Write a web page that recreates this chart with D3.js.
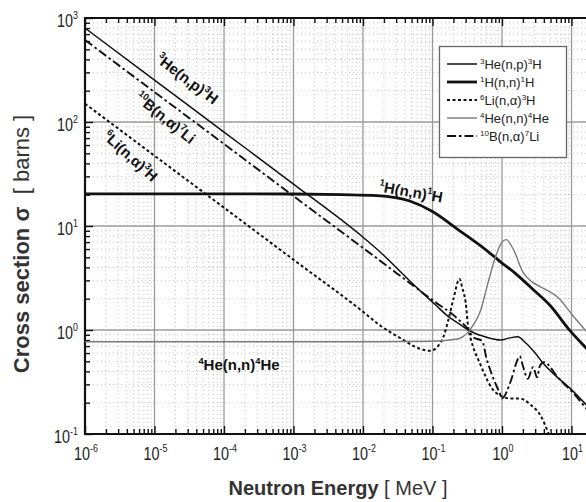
<!DOCTYPE html>
<html>
<head>
<meta charset="utf-8">
<script src="https://cdn.jsdelivr.net/npm/d3@7"></script>
<style>
  body { margin: 0; background: #fff; }
  svg { display: block; font-family: "Liberation Sans", Arial, sans-serif; }
</style>
</head>
<body>
<svg id="chart" width="586" height="502"></svg>
<script>
// cross sections, [energy MeV, sigma barns]
const he3np = [[1e-6,800],[1e-5,253],[1e-4,80],[1e-3,25.3],[1e-2,7.8],[0.0178,5.6],[0.04,3.3],[0.068,2.35],[0.11,1.75],[0.166,1.36],[0.24,1.15],[0.33,1.0],[0.42,0.92],[0.54,0.87],[0.75,0.82],[0.95,0.80],[1.3,0.84],[1.68,0.86],[2.2,0.75],[3.0,0.6],[4.0,0.47],[6.0,0.36],[9.8,0.27],[17,0.185]];
const h1nn = [[1e-6,20.4],[1e-5,20.4],[1e-4,20.4],[1e-3,20.3],[0.005,20.0],[0.016,19.6],[0.048,17.3],[0.1,13.8],[0.23,9.3],[0.5,6.4],[0.96,4.5],[1.6,3.45],[2.8,2.45],[5.0,1.7],[8.8,1.05],[17,0.65]];
const li6na = [[1e-6,150],[1e-5,47.4],[1e-4,15],[1e-3,4.74],[0.01,1.5],[0.0178,1.1],[0.034,0.84],[0.066,0.66],[0.093,0.63],[0.12,0.7],[0.145,0.875],[0.17,1.27],[0.2,1.99],[0.245,3.1],[0.27,2.5],[0.3,1.84],[0.33,1.0],[0.35,0.85],[0.5,0.45],[0.73,0.27],[1.0,0.23],[1.3,0.22],[1.8,0.22],[2.6,0.19],[3.6,0.15],[4.7,0.1]];
const he4nn = [[1e-6,0.77],[1e-4,0.77],[1e-2,0.77],[0.1,0.78],[0.23,0.82],[0.35,1.02],[0.5,1.59],[0.61,2.63],[0.81,5.1],[1.0,7.0],[1.15,7.4],[1.45,6.0],[2.0,3.6],[2.7,2.9],[3.6,2.6],[6.4,2.05],[10.5,1.37],[17,0.94]];
const b10na = [[1e-6,615],[1e-5,194],[1e-4,61.5],[1e-3,19.4],[0.01,6.15],[0.1,1.94],[0.23,1.28],[0.33,1.0],[0.38,0.86],[0.52,0.78],[0.6,0.53],[0.73,0.36],[0.92,0.25],[1.0,0.22],[1.33,0.32],[1.7,0.53],[1.8,0.56],[2.0,0.45],[2.35,0.34],[2.8,0.44],[3.2,0.35],[3.5,0.45],[4.0,0.49],[6.6,0.34],[9.9,0.26],[17,0.17]];

const xDecades = [-6, -5, -4, -3, -2, -1, 0, 1, 2];
const yDecades = [-1, 0, 1, 2, 3];
const xTickLabels = ["10{-6}","10{-5}","10{-4}","10{-3}","10{-2}","10{-1}","10{0}","10{1}"];
const yTickLabels = ["10{-1}","10{0}","10{1}","10{2}","10{3}"];

const legendNames = ["{3}He(n,p){3}H","{1}H(n,n){1}H","{6}Li(n,\u03b1){3}H","{4}He(n,n){4}He","{10}B(n,\u03b1){7}Li"];

const svg = d3.select("#chart");
const pLeft = 85, pTop = 18, pRight = 641, pBottom = 434;

let x = d3.scaleLog().domain([1e-6, 1e2]).range([pLeft, pRight]);
let y = d3.scaleLog().domain([0.1, 1000]).range([pBottom, pTop]);

// text with {..} parts written as superscripts
function richText(sel, str, size) {
  const parts = str.split(/\{([^}]*)\}/);
  let up = false;
  parts.forEach((p, i) => {
    if (!p) return;
    const t = sel.append("tspan").text(p);
    if (i % 2 === 1) {
      t.attr("font-size", size * 0.62).attr("dy", up ? 0 : -size * 0.42);
      up = true;
    } else {
      t.attr("font-size", size).attr("dy", up ? size * 0.42 : 0);
      up = false;
    }
  });
}

svg.append("defs").append("clipPath").attr("id", "plotclip")
  .append("rect").attr("x", pLeft).attr("y", pTop).attr("width", pRight - pLeft).attr("height", pBottom - pTop);

// grid
let minorX = [], minorY = [];
xDecades.slice(0, -1).forEach(d => { for (let k = 2; k < 10; k++) minorX.push(k * Math.pow(10, d)); });
yDecades.slice(0, -1).forEach(d => { for (let k = 2; k < 10; k++) minorY.push(k * Math.pow(10, d)); });
let majorX = xDecades.map(d => Math.pow(10, d));
let majorY = yDecades.map(d => Math.pow(10, d));

let grid = svg.append("g");
grid.selectAll(".mx").data(minorX).enter().append("line")
  .attr("x1", d => x(d)).attr("x2", d => x(d)).attr("y1", pTop).attr("y2", pBottom)
  .attr("stroke", "#b4b4b4").attr("stroke-width", 0.8).attr("stroke-dasharray", "1,3");
grid.selectAll(".my").data(minorY).enter().append("line")
  .attr("y1", d => y(d)).attr("y2", d => y(d)).attr("x1", pLeft).attr("x2", pRight)
  .attr("stroke", "#b4b4b4").attr("stroke-width", 0.8).attr("stroke-dasharray", "1,3");
grid.selectAll(".gx").data(majorX).enter().append("line")
  .attr("x1", d => x(d)).attr("x2", d => x(d)).attr("y1", pTop).attr("y2", pBottom)
  .attr("stroke", "#9a9a9a").attr("stroke-width", 1.3);
grid.selectAll(".gy").data(majorY).enter().append("line")
  .attr("y1", d => y(d)).attr("y2", d => y(d)).attr("x1", pLeft).attr("x2", pRight)
  .attr("stroke", "#9a9a9a").attr("stroke-width", 1.3);

// axes with inward ticks
function ticks(axis, vals, size, pos) {
  let g = svg.append("g").attr("transform", pos)
    .call(axis.tickValues(vals).tickSize(size).tickFormat(""));
  g.select(".domain").remove();
  g.selectAll("line").attr("stroke", "#111").attr("stroke-width", 1.4);
}
ticks(d3.axisBottom(x), majorX, -8, `translate(0,${pBottom})`);
ticks(d3.axisBottom(x), minorX, -5, `translate(0,${pBottom})`);
ticks(d3.axisTop(x), majorX, -8, `translate(0,${pTop})`);
ticks(d3.axisTop(x), minorX, -5, `translate(0,${pTop})`);
ticks(d3.axisLeft(y), majorY, -8, `translate(${pLeft},0)`);
ticks(d3.axisLeft(y), minorY, -5, `translate(${pLeft},0)`);

svg.append("path")
  .attr("d", `M${pRight},${pTop}H${pLeft}V${pBottom}H${pRight}`)
  .attr("fill", "none").attr("stroke", "#111").attr("stroke-width", 2.2);

// tick labels (narrow, like the scan)
xTickLabels.forEach((s, i) => {
  let t = svg.append("text")
    .attr("transform", `translate(${x(majorX[i]) + 1},460) scale(0.8,1)`)
    .attr("text-anchor", "middle").attr("fill", "#222");
  richText(t, s, 18);
});
yTickLabels.forEach((s, i) => {
  let t = svg.append("text")
    .attr("transform", `translate(78,${y(majorY[i]) + 9}) scale(0.8,1)`)
    .attr("text-anchor", "end").attr("fill", "#222");
  richText(t, s, 18);
});

// curves
const line = d3.line().x(d => x(d[0])).y(d => y(d[1])).curve(d3.curveMonotoneX);
const series = [
  { data: he3np, color: "#111", width: 1.5, dash: null },
  { data: h1nn, color: "#111", width: 2.8, dash: null },
  { data: li6na, color: "#111", width: 2.0, dash: "3,2.5" },
  { data: he4nn, color: "#7a7a7a", width: 1.4, dash: null },
  { data: b10na, color: "#111", width: 1.9, dash: "9,3,2.5,3" }
];
let plot = svg.append("g").attr("clip-path", "url(#plotclip)");
series.forEach(s => {
  plot.append("path").attr("d", line(s.data))
    .attr("fill", "none").attr("stroke", s.color).attr("stroke-width", s.width)
    .attr("stroke-dasharray", s.dash);
});

// curve labels
function curveLabel(str, cx, cy, angle) {
  let t = svg.append("text").attr("text-anchor", "middle").attr("fill", "#111")
    .attr("font-weight", "bold")
    .attr("transform", `translate(${cx},${cy}) rotate(${angle})`);
  richText(t, str, 15);
}
curveLabel("{3}He(n,p){3}H", 184, 83, 37);
curveLabel("{10}B(n,\u03b1){7}Li", 162, 122, 39);
curveLabel("{6}Li(n,\u03b1){3}H", 127, 160, 42);
curveLabel("{1}H(n,n){1}H", 410, 197, 10);
curveLabel("{4}He(n,n){4}He", 239, 370, 0);

// legend
let leg = svg.append("g");
leg.append("rect").attr("x", 439.5).attr("y", 46.5).attr("width", 127).attr("height", 111)
  .attr("fill", "#fff").attr("stroke", "#666").attr("stroke-width", 1.3);
legendNames.forEach((name, i) => {
  let ly = 64 + i * 18;
  leg.append("line").attr("x1", 447).attr("x2", 477).attr("y1", ly).attr("y2", ly)
    .attr("stroke", series[i].color).attr("stroke-width", series[i].width)
    .attr("stroke-dasharray", series[i].dash);
  let t = leg.append("text").attr("x", 480).attr("y", ly + 5).attr("fill", "#222");
  richText(t, name, 13);
});

// axis titles
let xt = svg.append("text").attr("x", 338).attr("y", 495).attr("text-anchor", "middle")
  .attr("fill", "#333").attr("font-size", 20);
xt.append("tspan").attr("font-weight", "bold").text("Neutron Energy");
xt.append("tspan").text("\u00a0[ MeV ]");

let yt = svg.append("text").attr("transform", "translate(29,244) rotate(-90)")
  .attr("text-anchor", "middle").attr("fill", "#333").attr("font-size", 22);
yt.append("tspan").attr("font-weight", "bold").text("Cross section \u03c3");
yt.append("tspan").text("\u00a0\u00a0[ barns ]");
</script>
</body>
</html>
